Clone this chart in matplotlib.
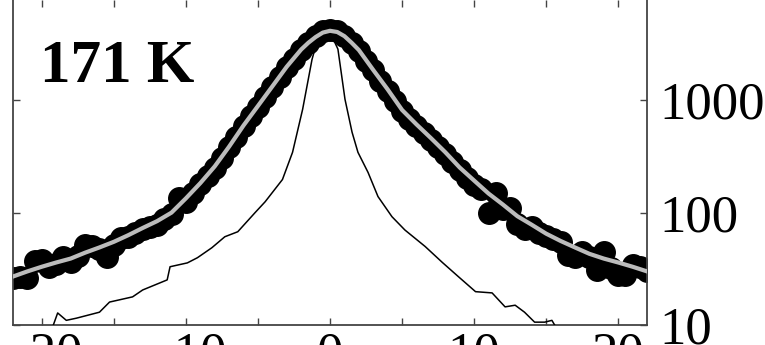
import matplotlib.pyplot as plt
from matplotlib.ticker import FixedLocator, NullLocator

# measured intensity (black dots)
data_x = [-22, -21.5, -21, -20.5, -20, -19.5, -19, -18.5, -18, -17.5, -17, -16.5,
          -16, -15.5, -15, -14.5, -14, -13.5, -13, -12.5, -12, -11.5, -11, -10.5,
          -10, -9.5, -9, -8.5, -8, -7.5, -7, -6.5, -6, -5.5, -5, -4.5, -4, -3.5,
          -3, -2.5, -2, -1.5, -1, -0.5, 0, 0.5, 1, 1.5, 2, 2.5, 3, 3.5, 4, 4.5,
          5, 5.5, 6, 6.5, 7, 7.5, 8, 8.5, 9, 9.5, 10, 10.5, 11, 11.5, 12, 12.5,
          13, 13.5, 14, 14.5, 15, 15.5, 16, 16.5, 17, 17.5, 18, 18.5, 19, 19.5,
          20, 20.5, 21, 21.5, 22]
data_y = [26, 27, 26, 37, 38, 33, 35, 40, 36, 41, 51, 50,
          47, 40, 52, 60, 61, 66, 72, 74, 78, 88, 98, 136,
          125, 150, 178, 210, 250, 305, 380, 470, 585, 720, 870, 1060, 1300, 1600,
          1960, 2350, 2800, 3250, 3700, 4100, 4250, 4100, 3700, 3200, 2750, 2250, 1850, 1480, 1200, 980,
          800, 680, 590, 510, 440, 380, 330, 280, 240, 205, 175, 162, 100, 150, 108, 110,
          80, 72, 75, 66, 62, 58, 55, 42, 40, 45, 40, 31, 45, 32,
          28, 28, 34, 33, 30]

# fitted curve (grey)
fit_x = [-22, -21, -20, -19, -18, -17, -16, -15, -14, -13, -12, -11, -10, -9, -8,
         -7, -6, -5, -4, -3, -2, -1.5, -1, -0.5, 0, 0.5, 1, 1.5, 2, 3, 4, 5, 6,
         7, 8, 9, 10, 11, 12, 13, 14, 15, 16, 17, 18, 19, 20, 21, 22]
fit_y = [27, 30, 33, 36, 39, 44, 49, 55, 63, 73, 84, 100, 134, 183, 258,
         387, 597, 890, 1330, 1990, 2830, 3250, 3650, 4000, 4150, 4050, 3720, 3250, 2800, 1860, 1250, 820, 610,
         461, 345, 252, 193, 148, 118, 93, 78, 65, 56, 49, 43, 39, 36, 33, 30]

# resolution / reference profile (thin black line)
ref_x = [-19.5, -19.2, -18.9, -18.3, -17.6, -16.0, -15.3, -13.7, -13.0, -11.3, -11.1,
         -9.9, -9.2, -8.2, -7.3, -6.4, -5.2, -4.5, -3.3, -2.6, -1.9, -1.25, -0.9,
         -0.55, 0, 0.55, 1.04, 1.53, 1.94, 2.64, 3.33, 4.3, 5.2, 6.6, 7.8, 8.9,
         10.1, 11.25, 12.15, 12.85, 13.5, 14.2, 14.9, 15.4, 15.8]
ref_y = [8, 10, 12.8, 11, 11.5, 13, 16, 17.8, 20.5, 25.2, 33,
         35.7, 39.7, 48.7, 61, 67.6, 100, 125, 197, 344, 830, 2300, 3350,
         3900, 4050, 2850, 1020, 520, 344, 228, 139, 92, 70, 50, 36, 27,
         19.8, 19.3, 14.5, 15, 13, 10.6, 10.6, 11, 9]

xticks = [-20, -10, 0, 10, 20]
xtick_labels = ['\u221220', '\u221210', '0', '10', '20']
yticks = [10, 100, 1000]
ytick_labels = ['10', '100', '1000']

serif = ['Liberation Serif', 'DejaVu Serif']

fig = plt.figure(figsize=(7.65, 3.45), dpi=100)
ax = fig.add_axes([13 / 765, 20 / 345, 634 / 765, 325 / 345])

ax.plot(data_x, data_y, 'o', color='black', ms=15.5, mec='black', zorder=2)
ax.plot(ref_x, ref_y, color='black', lw=1.1, zorder=3)
ax.plot(fit_x, fit_y, color='#bcbcbc', lw=3, zorder=4)

ax.set_yscale('log')
ax.set_xlim(-22, 22)
ax.set_ylim(10, 7800)

ax.xaxis.set_major_locator(FixedLocator(xticks))
ax.xaxis.set_minor_locator(FixedLocator([-15, -5, 5, 15]))
ax.set_xticklabels(xtick_labels, fontfamily=serif, fontsize=38)
ax.yaxis.set_major_locator(FixedLocator(yticks))
ax.yaxis.set_minor_locator(NullLocator())
ax.set_yticklabels(ytick_labels, fontfamily=serif, fontsize=38)

ax.tick_params(axis='x', which='both', direction='in', top=True, bottom=True,
               length=5, width=1, color='#444444', pad=5)
ax.tick_params(axis='y', which='both', direction='in', left=True, right=True,
               labelleft=False, labelright=True, length=5, width=1,
               color='#444444', pad=9)

ax.spines['top'].set_visible(False)
for s in ['left', 'right', 'bottom']:
    ax.spines[s].set_color('#444444')
    ax.spines[s].set_linewidth(1.3)

fig.text(40 / 765, (345 - 82) / 345, '171 K', fontfamily=serif, fontweight='bold',
         fontsize=44, va='baseline', ha='left')

fig.savefig('out.png', dpi=100)
